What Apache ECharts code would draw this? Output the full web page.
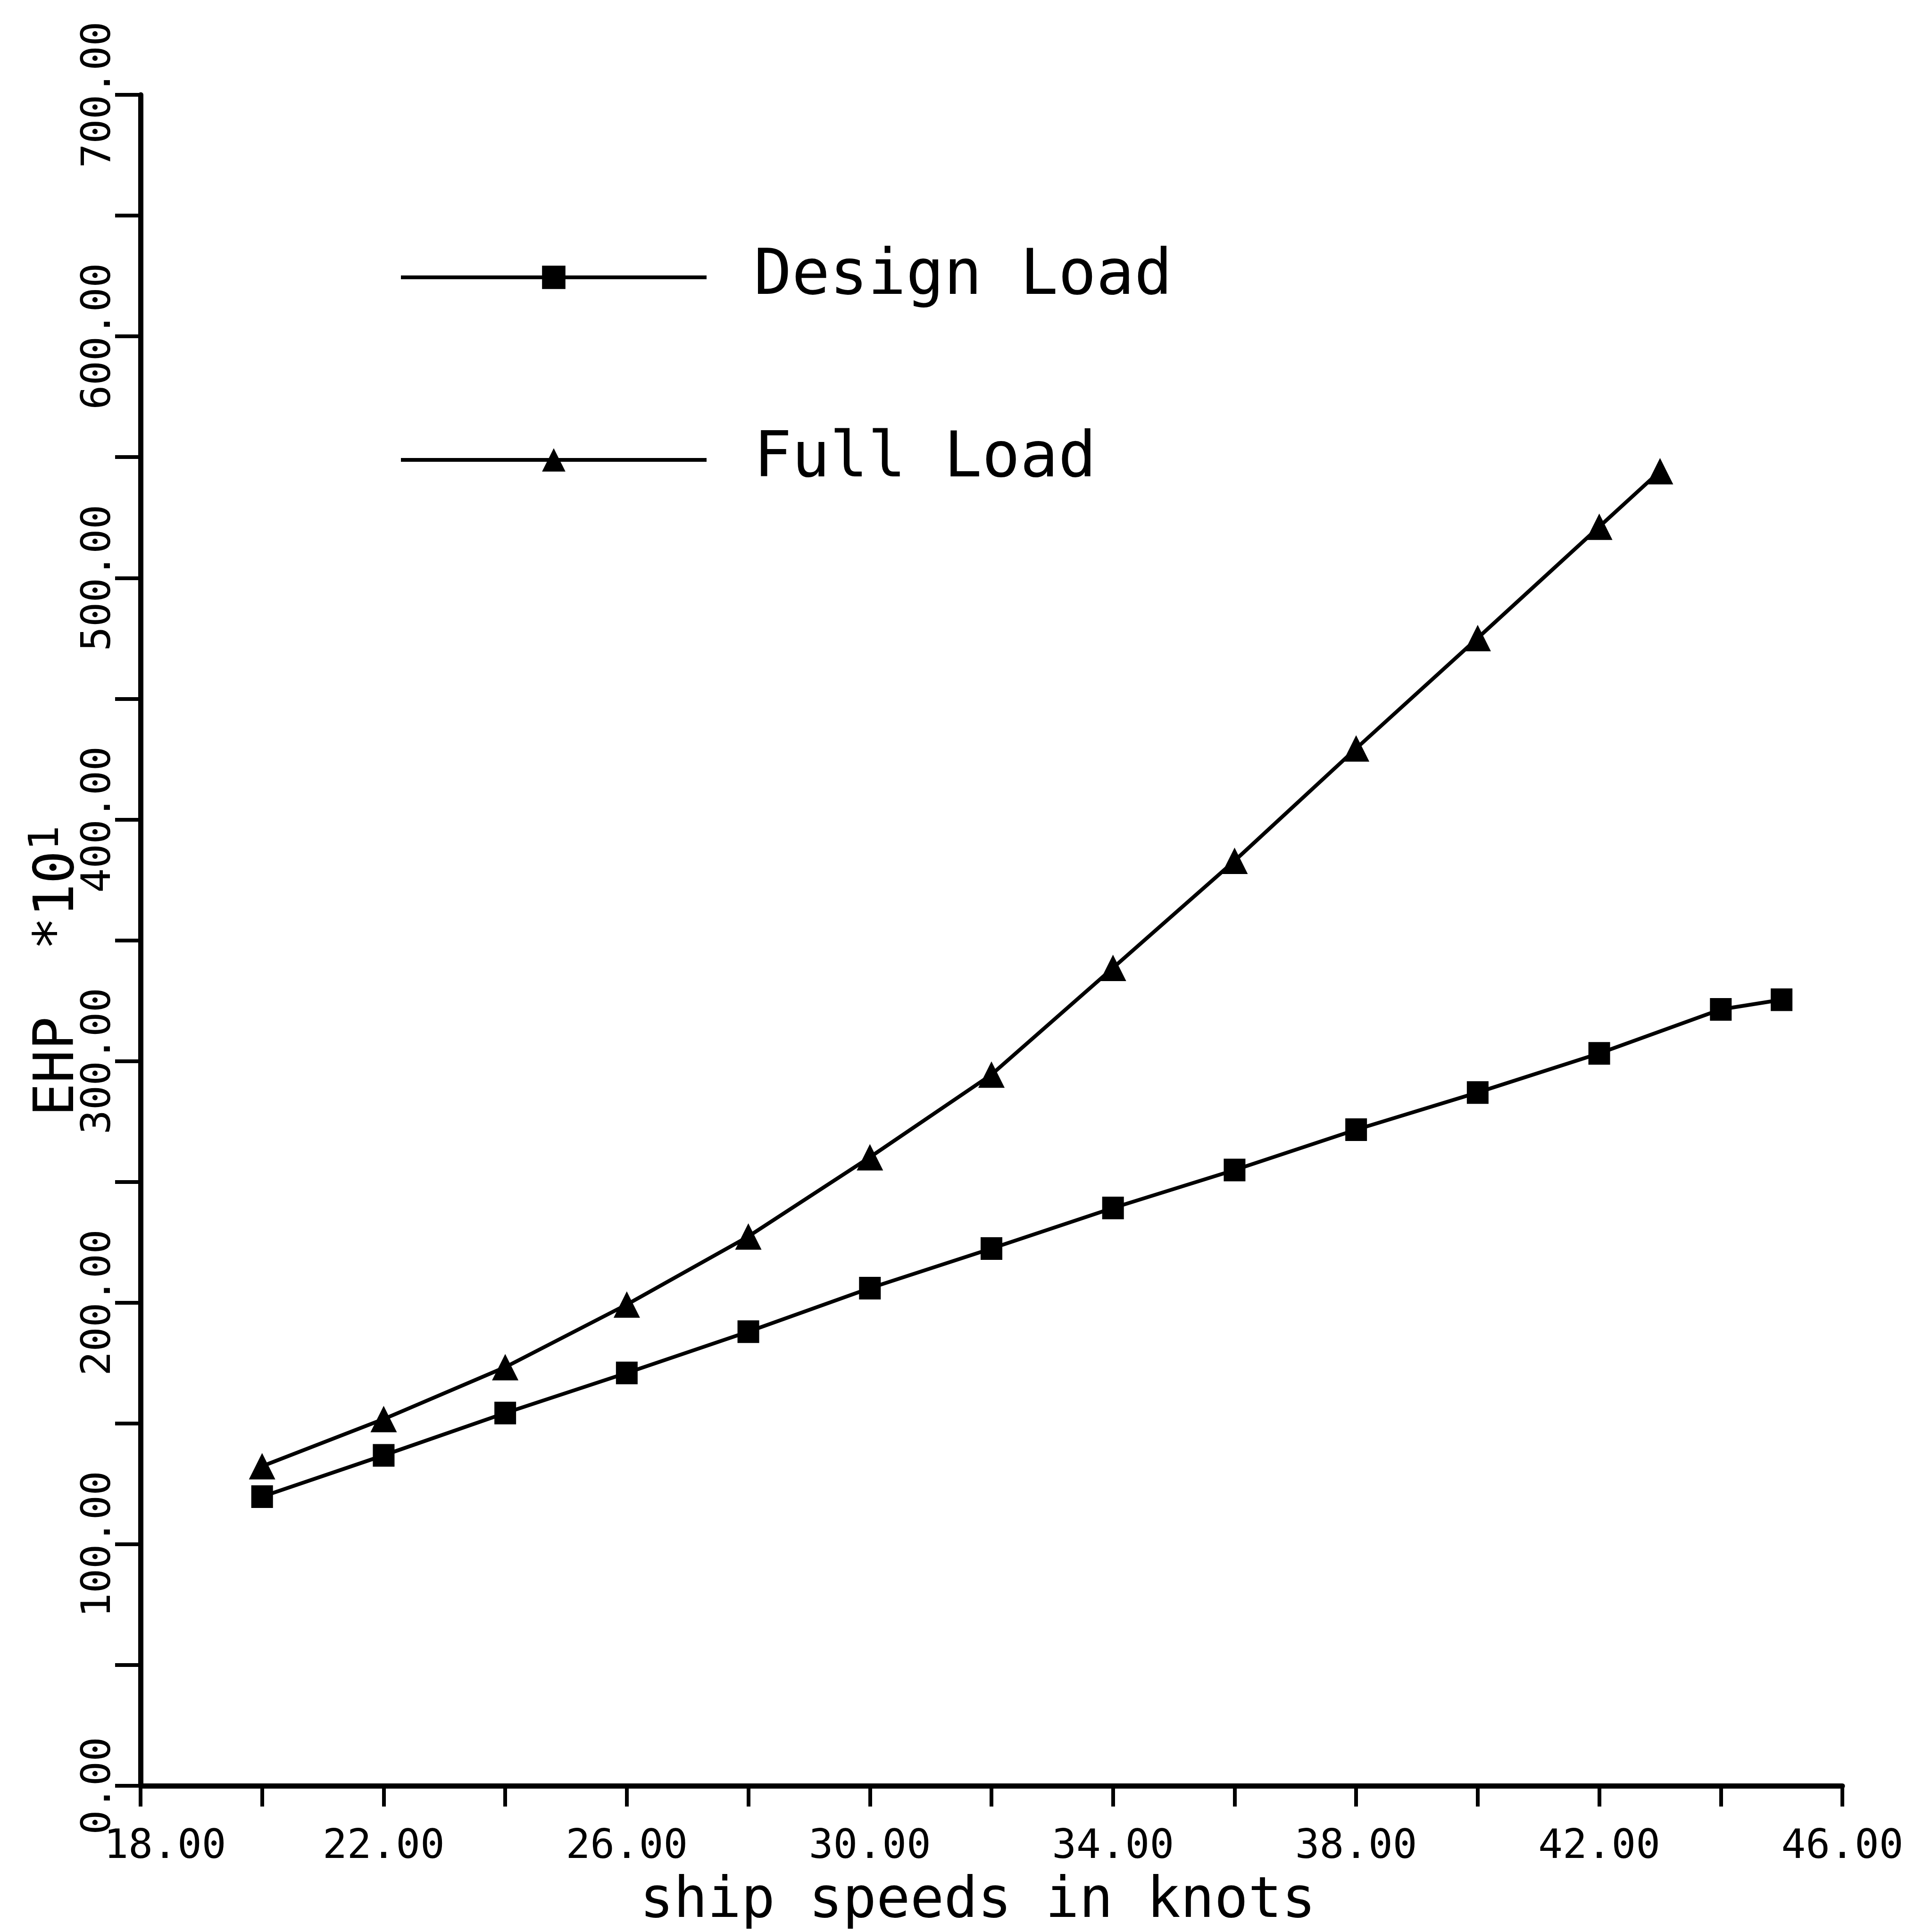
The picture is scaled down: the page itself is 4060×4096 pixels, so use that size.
<!DOCTYPE html>
<html>
<head>
<meta charset="utf-8">
<script src="https://cdn.jsdelivr.net/npm/echarts@6/dist/echarts.min.js"></script>
<style>
html, body { margin: 0; padding: 0; background: #fff; }
#chart { width: 4060px; height: 4096px; }
</style>
</head>
<body>
<div id="chart"></div>
<script>
// ship speed (knots) and EHP *10^1
var designSpeeds = [20, 22, 24, 26, 28, 30, 32, 34, 36, 38, 40, 42, 44, 45];
var designEhp = [119.7, 136.8, 154.3, 170.9, 188, 206, 222.4, 239.2, 254.9, 271.6, 287, 303.2, 321.4, 325.4];
var fullSpeeds = [20, 22, 24, 26, 28, 30, 32, 34, 36, 38, 40, 42, 43];
var fullEhp = [132.3, 151.8, 173.3, 199.2, 227.4, 260.2, 294.4, 338.6, 382.9, 429.4, 475.1, 521.2, 544.2];
var seriesNames = ['Design Load', 'Full Load'];
var xName = 'ship speeds in knots';
var yName = 'EHP  *10';
var yNameSup = '1';

var font = 'DejaVu Sans Mono';
var ink = '#000';

function pairs(xs, ys) {
    return xs.map(function (x, i) { return [x, ys[i]]; });
}

var myChart = echarts.init(document.getElementById('chart'));

var option = {
    backgroundColor: '#fff',
    animation: false,
    grid: {
        left: 298,
        right: 154,
        top: 201,
        bottom: 310,
        outerBoundsMode: 'none'
    },
    legend: {
        orient: 'vertical',
        left: 841,
        top: 516,
        itemWidth: 648,
        itemHeight: 62,
        itemGap: 253,
        selectedMode: false,
        data: seriesNames,
        lineStyle: { color: ink, width: 8 },
        textStyle: {
            fontFamily: font,
            fontSize: 134,
            lineHeight: 134,
            color: ink,
            padding: [0, 0, 0, 95]
        }
    },
    xAxis: {
        type: 'value',
        min: 18,
        max: 46,
        interval: 4,
        name: xName,
        nameLocation: 'middle',
        nameGap: 188,
        nameMoveOverlap: false,
        nameTextStyle: { fontFamily: font, fontSize: 119, color: ink, padding: [0, 58, 0, 0] },
        axisLine: { lineStyle: { color: ink, width: 11 } },
        axisTick: { length: 44, lineStyle: { color: ink, width: 8 } },
        minorTick: { show: true, splitNumber: 2, length: 44, lineStyle: { color: ink, width: 8 } },
        splitLine: { show: false },
        axisLabel: {
            margin: 88,
            fontFamily: font,
            fontSize: 86,
            color: ink,
            formatter: function (v) {
                var s = v.toFixed(2);
                return v === 18 ? '{first|' + s + '}' : s;
            },
            rich: {
                first: { fontFamily: font, fontSize: 86, color: ink, padding: [0, 0, 0, 104] }
            }
        }
    },
    yAxis: {
        type: 'value',
        min: 0,
        max: 700,
        interval: 100,
        name: yName + '{sup|' + yNameSup + '}',
        nameLocation: 'middle',
        nameGap: 104,
        nameMoveOverlap: false,
        nameTextStyle: {
            fontFamily: font,
            fontSize: 117,
            color: ink,
            padding: [0, 130, 0, 0],
            rich: {
                sup: { fontFamily: font, fontSize: 88, color: ink, verticalAlign: 'bottom', padding: [0, 0, 50, 0] }
            }
        },
        axisLine: { lineStyle: { color: ink, width: 11 } },
        axisTick: { length: 54, lineStyle: { color: ink, width: 8 } },
        minorTick: { show: true, splitNumber: 2, length: 54, lineStyle: { color: ink, width: 8 } },
        splitLine: { show: false },
        axisLabel: {
            rotate: 90,
            margin: 44,
            fontFamily: font,
            fontSize: 86,
            color: ink,
            formatter: function (v) { return v.toFixed(2); }
        }
    },
    series: [
        {
            name: seriesNames[0],
            type: 'line',
            data: pairs(designSpeeds, designEhp),
            symbol: 'rect',
            symbolSize: [46, 48],
            lineStyle: { color: ink, width: 8 },
            itemStyle: { color: ink }
        },
        {
            name: seriesNames[1],
            type: 'line',
            data: pairs(fullSpeeds, fullEhp),
            symbol: 'triangle',
            symbolSize: 56,
            lineStyle: { color: ink, width: 8 },
            itemStyle: { color: ink }
        }
    ]
};

myChart.setOption(option);
</script>
</body>
</html>
